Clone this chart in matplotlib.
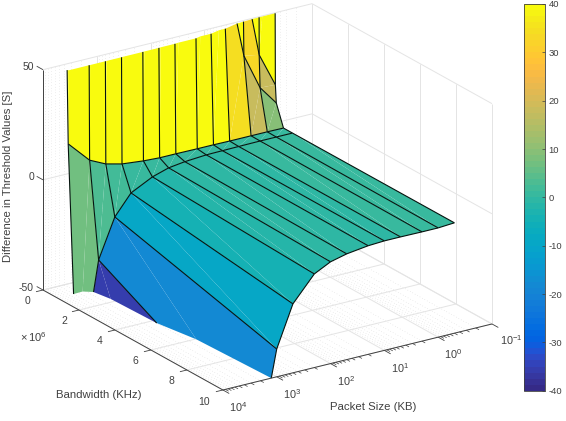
import numpy as np
import matplotlib
matplotlib.use('Agg')
import matplotlib.pyplot as plt
from matplotlib.colors import ListedColormap, Normalize
from matplotlib.cm import ScalarMappable
from mpl_toolkits.mplot3d import proj3d
from mpl_toolkits.mplot3d.art3d import Poly3DCollection

plt.rcParams['font.family'] = ['Liberation Sans', 'DejaVu Sans']
plt.rcParams['mathtext.fontset'] = 'custom'
plt.rcParams['mathtext.rm'] = 'Liberation Sans'
plt.rcParams['mathtext.default'] = 'regular'
plt.rcParams['axes.unicode_minus'] = False

# packet sizes in KB, bandwidths in KHz
packet_size = [0.5, 1, 2, 5, 10, 20, 50, 100, 200, 500, 1000, 2000, 5000]
bandwidth = [1e4, 5e4, 1e5, 5e5, 1e6, 1e7]

# threshold difference for each bandwidth, one value per packet size
diff_bw_10k = [120, 180, 300, 600, 900, 1200, 1500, 1800, 2000, 2200, 2400, 2500, 2600]
diff_bw_50k = [17.6, 33, 72, 140, 280, 500, 700, 900, 1000, 1100, 1200, 1100, 900]
diff_bw_100k = [9.6, 18.3, 34.6, 83, 150, 285, 400, 500, 600, 700, 800, 700, 240]
diff_bw_500k = [0, 0.1, 0.1, 0.1, 0.2, 0.2, 0.3, 0.3, 0.7, 1.7, 3.5, 7, 16.8]
diff_bw_1m = [0, 0, 0, -0.1, -0.2, -0.3, -1, -2, -4.3, -9.2, -18.3, -36, -95]
diff_bw_10m = [0.1, -0.4, -0.4, -0.3, -0.3, -0.7, -2, -3.8, -7.5, -18.7, -37.4, -75, -200]

z_ticks = [-50, 0, 50]
bw_ticks = [0, 2e6, 4e6, 6e6, 8e6, 10e6]
bw_labels = ['0', '2', '4', '6', '8', '10']
cbar_ticks = [-40, -30, -20, -10, 0, 10, 20, 30, 40]

# parula
parula = ListedColormap([
    (0.2081, 0.1663, 0.5292), (0.2116, 0.1898, 0.5777), (0.2123, 0.2138, 0.6270), (0.2081, 0.2386, 0.6771),
    (0.1959, 0.2645, 0.7279), (0.1707, 0.2919, 0.7792), (0.1253, 0.3242, 0.8303), (0.0591, 0.3598, 0.8683),
    (0.0117, 0.3875, 0.8820), (0.0060, 0.4086, 0.8828), (0.0165, 0.4266, 0.8786), (0.0329, 0.4430, 0.8720),
    (0.0498, 0.4586, 0.8641), (0.0629, 0.4737, 0.8554), (0.0723, 0.4887, 0.8467), (0.0779, 0.5040, 0.8384),
    (0.0793, 0.5200, 0.8312), (0.0749, 0.5375, 0.8263), (0.0641, 0.5570, 0.8240), (0.0488, 0.5772, 0.8228),
    (0.0343, 0.5966, 0.8199), (0.0265, 0.6137, 0.8135), (0.0239, 0.6287, 0.8038), (0.0231, 0.6418, 0.7913),
    (0.0228, 0.6535, 0.7768), (0.0267, 0.6642, 0.7607), (0.0384, 0.6743, 0.7436), (0.0590, 0.6838, 0.7254),
    (0.0843, 0.6928, 0.7062), (0.1133, 0.7015, 0.6859), (0.1453, 0.7098, 0.6646), (0.1801, 0.7177, 0.6424),
    (0.2178, 0.7250, 0.6193), (0.2586, 0.7317, 0.5954), (0.3022, 0.7376, 0.5712), (0.3482, 0.7424, 0.5473),
    (0.3953, 0.7459, 0.5244), (0.4420, 0.7481, 0.5033), (0.4871, 0.7491, 0.4840), (0.5300, 0.7491, 0.4661),
    (0.5709, 0.7485, 0.4494), (0.6099, 0.7473, 0.4337), (0.6473, 0.7456, 0.4188), (0.6834, 0.7435, 0.4044),
    (0.7184, 0.7411, 0.3905), (0.7525, 0.7384, 0.3768), (0.7858, 0.7356, 0.3633), (0.8185, 0.7327, 0.3498),
    (0.8507, 0.7299, 0.3360), (0.8824, 0.7274, 0.3217), (0.9139, 0.7258, 0.3063), (0.9450, 0.7261, 0.2886),
    (0.9739, 0.7314, 0.2666), (0.9938, 0.7455, 0.2403), (0.9990, 0.7653, 0.2164), (0.9955, 0.7861, 0.1967),
    (0.9880, 0.8066, 0.1794), (0.9789, 0.8271, 0.1633), (0.9697, 0.8481, 0.1475), (0.9626, 0.8705, 0.1309),
    (0.9589, 0.8949, 0.1132), (0.9598, 0.9218, 0.0948), (0.9661, 0.9514, 0.0755), (0.9763, 0.9831, 0.0538),
])
norm = Normalize(-40, 40)

ZMIN, ZMAX = -50, 50
XMIN, XMAX = -1, 4
YMAX = 1e7
GRID = '#e4e4e4'
DOTS = '#cccccc'
AXIS = '#404040'
MESH = '#06140f'


def clip_poly(pts):
    # cut a polygon against the z limits
    for limit, sign in ((ZMIN, 1), (ZMAX, -1)):
        out = []
        for k in range(len(pts)):
            a, b = np.array(pts[k]), np.array(pts[(k + 1) % len(pts)])
            da, db = sign * (a[2] - limit), sign * (b[2] - limit)
            if da >= 0:
                out.append(a)
            if da * db < 0:
                out.append(a + (b - a) * da / (da - db))
        pts = out
        if not pts:
            break
    return pts


def clip_seg(a, b):
    # cut a line segment against the z limits
    a, b = np.array(a, dtype=float), np.array(b, dtype=float)
    lo, hi = 0.0, 1.0
    dz = b[2] - a[2]
    if dz == 0:
        if a[2] < ZMIN or a[2] > ZMAX:
            return None
    else:
        t1, t2 = (ZMIN - a[2]) / dz, (ZMAX - a[2]) / dz
        lo, hi = max(lo, min(t1, t2)), min(hi, max(t1, t2))
        if lo >= hi:
            return None
    return a + (b - a) * lo, a + (b - a) * hi


fig = plt.figure(figsize=(5.66, 4.21), dpi=100)
ax = fig.add_axes([0, 0, 1, 1], projection='3d', computed_zorder=False)
ax.set_proj_type('ortho')
ax.view_init(elev=21.67, azim=56.4)
ax.set_box_aspect((323, 325, 237))
ax.set_xlim(XMIN, XMAX, view_margin=0)
ax.set_ylim(0, YMAX, view_margin=0)
ax.set_zlim(ZMIN, ZMAX, view_margin=0)
ax.set_axis_off()
ax.patch.set_alpha(0)

# put the axes so the left and right floor corners of the box land where wanted
ax.apply_aspect()
M = ax.get_proj()
corners = []
for cx, cy in ((XMAX, 0), (XMIN, YMAX)):
    vx, vy, _ = proj3d.proj_transform(cx, cy, ZMIN, M)
    corners.append(ax.transAxes.inverted().transform(ax.transData.transform((vx, vy))))
side = (492 - 43) / (corners[1][0] - corners[0][0])
left = 43 - side * corners[0][0]
bottom = (421 - 290) - side * corners[0][1]
ax.set_position([left / 566, bottom / 421, side / 566, side / 421])

# grid on the floor and the two back walls
major_x = list(range(XMIN, XMAX + 1))
minor_x = [d + np.log10(m) for d in range(XMIN, XMAX) for m in range(2, 10)]


def line(xs, ys, zs, color=GRID, lw=0.7, ls='-', zorder=1):
    ax.plot(xs, ys, zs, color=color, lw=lw, ls=ls, zorder=zorder, solid_capstyle='butt')


for lx in minor_x:
    line([lx, lx], [0, YMAX], [ZMIN, ZMIN], DOTS, 0.4, (0, (1, 4)))
    line([lx, lx], [0, 0], [ZMIN, ZMAX], DOTS, 0.4, (0, (1, 4)))
for lx in major_x:
    line([lx, lx], [0, YMAX], [ZMIN, ZMIN])
    line([lx, lx], [0, 0], [ZMIN, ZMAX])
for by in bw_ticks:
    line([XMIN, XMAX], [by, by], [ZMIN, ZMIN])
    line([XMIN, XMIN], [by, by], [ZMIN, ZMAX])
for zt in z_ticks:
    line([XMIN, XMAX], [0, 0], [zt, zt])
    line([XMIN, XMIN], [0, YMAX], [zt, zt])

# axis lines and ticks
line([XMIN, XMAX], [YMAX, YMAX], [ZMIN, ZMIN], AXIS, 0.7, zorder=4)
line([XMAX, XMAX], [0, YMAX], [ZMIN, ZMIN], AXIS, 0.7, zorder=4)
line([XMAX, XMAX], [0, 0], [ZMIN, ZMAX], AXIS, 0.7, zorder=4)
for lx in major_x:
    line([lx, lx], [YMAX, YMAX * 1.035], [ZMIN, ZMIN], AXIS, 0.6, zorder=4)
    shift = 0.05 if lx >= 0 else -0.03
    ax.text(lx + shift, YMAX * 1.1, ZMIN - 3, '$10^{%d}$' % lx, fontsize=7.8, color=AXIS,
            ha='center', va='center')
for lx in minor_x:
    line([lx, lx], [YMAX, YMAX * 1.018], [ZMIN, ZMIN], AXIS, 0.5, zorder=4)
for by, lab in zip(bw_ticks, bw_labels):
    line([XMAX, XMAX + 0.13], [by, by], [ZMIN, ZMIN], AXIS, 0.6, zorder=4)
    ax.text(XMAX + (0.35 if lab == '10' else 0.28), by, ZMIN - 3.3, lab, fontsize=7.5, color=AXIS,
            ha='center', va='center')
for zt in z_ticks:
    line([XMAX, XMAX], [0, -YMAX * 0.035], [zt, zt], AXIS, 0.6, zorder=4)
    ax.text(XMAX, -YMAX * 0.05, zt - 1.2, str(zt), fontsize=7.5, color=AXIS, ha='right', va='center')

# surface: flat coloured cells, each cut in two triangles and clipped at the z limits
lx = np.log10(packet_size)
by = np.array(bandwidth)
Z = np.array([diff_bw_10k, diff_bw_50k, diff_bw_100k, diff_bw_500k, diff_bw_1m, diff_bw_10m])

polys, colors = [], []
for j in range(len(by) - 1):
    for i in range(len(lx) - 1):
        p00 = (lx[i], by[j], Z[j, i])
        p10 = (lx[i + 1], by[j], Z[j, i + 1])
        p11 = (lx[i + 1], by[j + 1], Z[j + 1, i + 1])
        p01 = (lx[i], by[j + 1], Z[j + 1, i])
        for tri in ((p00, p10, p11), (p00, p11, p01)):
            cut = clip_poly(list(tri))
            if len(cut) >= 3:
                polys.append(np.array(cut))
                colors.append(parula(norm(Z[j, i])))
surf = Poly3DCollection(polys, facecolors=colors, edgecolors='none', linewidths=0, zorder=2)
ax.add_collection3d(surf)

# mesh lines on top of the faces
for j in range(len(by)):
    for i in range(len(lx) - 1):
        seg = clip_seg((lx[i], by[j], Z[j, i]), (lx[i + 1], by[j], Z[j, i + 1]))
        if seg:
            line([seg[0][0], seg[1][0]], [seg[0][1], seg[1][1]], [seg[0][2], seg[1][2]], MESH, 0.8, zorder=3)
for i in range(len(lx)):
    for j in range(len(by) - 1):
        seg = clip_seg((lx[i], by[j], Z[j, i]), (lx[i], by[j + 1], Z[j + 1, i]))
        if seg:
            line([seg[0][0], seg[1][0]], [seg[0][1], seg[1][1]], [seg[0][2], seg[1][2]], MESH, 0.8, zorder=3)

# axis titles
fig.text(8 / 566, 1 - 176 / 421, 'Difference in Threshold Values [S]', rotation=90, fontsize=8.2,
         color=AXIS, ha='center', va='center')
fig.text(99 / 566, 1 - 395 / 421, 'Bandwidth (KHz)', fontsize=8.2, color=AXIS, ha='center', va='center')
fig.text(373 / 566, 1 - 407 / 421, 'Packet Size (KB)', fontsize=8.2, color=AXIS, ha='center', va='center')
fig.text(33 / 566, 1 - 337 / 421, r'$\times\,10^{6}$', fontsize=8, color=AXIS, ha='center', va='center')

# colorbar
cax = fig.add_axes([523.5 / 566, 1 - 390.7 / 421, 21 / 566, 386.7 / 421])
cb = fig.colorbar(ScalarMappable(norm=norm, cmap=parula), cax=cax, ticks=cbar_ticks)
cb.ax.tick_params(direction='in', length=2.5, width=0.5, labelsize=6.8, colors=AXIS, pad=3)
cb.outline.set_edgecolor(AXIS)
cb.outline.set_linewidth(0.6)

fig.savefig('out.png', dpi=100)
